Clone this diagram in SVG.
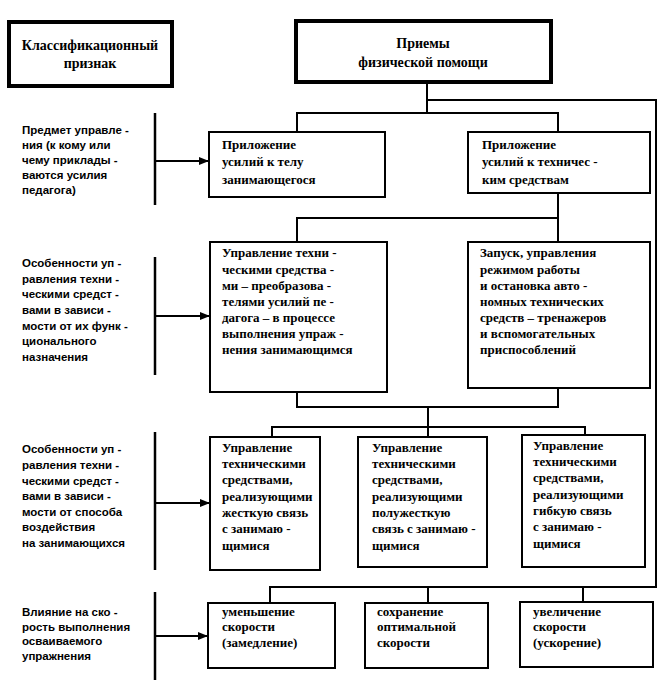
<svg xmlns="http://www.w3.org/2000/svg" width="661" height="681" viewBox="0 0 661 681">
<style>
.bg{fill:#fff}
.box{fill:#fff;stroke:#000;stroke-width:2}
.hbox{fill:#fff;stroke:#000;stroke-width:4}
.ln{fill:none;stroke:#000;stroke-width:2}
.bar{fill:none;stroke:#000;stroke-width:2.5}
.t{font-family:"Liberation Serif","Times New Roman",serif;font-size:13px;font-weight:bold;fill:#000}
.h{font-family:"Liberation Serif","Times New Roman",serif;font-size:14px;font-weight:bold;fill:#000;text-anchor:middle}
.l{font-family:"Liberation Sans",Arial,sans-serif;font-size:11.5px;font-weight:bold;fill:#000}
</style>
<defs>
<marker id="arr" markerWidth="10" markerHeight="8" refX="10" refY="4" orient="auto" markerUnits="userSpaceOnUse">
<path d="M0,0 L10,4 L0,8 Z" fill="#000"/>
</marker>
</defs>
<rect class="bg" x="0" y="0" width="661" height="681"/>

<g id="connectors">
<path class="ln" d="M427,82 V113"/>
<path class="ln" d="M427,100 H656 V587 H270 V603"/>
<path class="ln" d="M428,587 V603"/>
<path class="ln" d="M583,587 V602"/>
<path class="ln" d="M297,132 V113 H558 V132"/>
<path class="ln" d="M558,193 V218"/>
<path class="ln" d="M297,242 V218 H558 V242"/>
<path class="ln" d="M297,392 V407 H558 V388"/>
<path class="ln" d="M428,407 V427"/>
<path class="ln" d="M272,437 V427 H585 V435"/>
<path class="ln" d="M428,427 V437"/>
<path class="bar" d="M155,113 V205"/>
<path class="bar" d="M155,257 V375"/>
<path class="bar" d="M155,432 V570"/>
<path class="bar" d="M155,592 V680"/>
<path class="ln" d="M155,161 H209" marker-end="url(#arr)"/>
<path class="ln" d="M155,316 H210" marker-end="url(#arr)"/>
<path class="ln" d="M155,503 H210" marker-end="url(#arr)"/>
<path class="ln" d="M155,636 H208" marker-end="url(#arr)"/>
</g>

<g id="classif">
<rect class="hbox" x="9" y="22" width="163" height="64"/>
<text class="h" x="90" y="50">Классификационный</text>
<text class="h" x="90" y="68">признак</text>
</g>

<g id="root">
<rect class="hbox" x="296" y="21" width="255" height="61"/>
<text class="h" x="423" y="48">Приемы</text>
<text class="h" x="423" y="67">физической помощи</text>
</g>

<g id="lbl1">
<text class="l" x="22" y="134">Предмет управле -</text>
<text class="l" x="22" y="149">ния (к кому или</text>
<text class="l" x="22" y="164">чему приклады -</text>
<text class="l" x="22" y="179">ваются усилия</text>
<text class="l" x="22" y="194">педагога)</text>
</g>

<g id="lbl2">
<text class="l" x="22" y="267">Особенности уп -</text>
<text class="l" x="22" y="283">равления техни -</text>
<text class="l" x="22" y="298">ческими средст -</text>
<text class="l" x="22" y="314">вами в зависи -</text>
<text class="l" x="22" y="330">мости от их функ -</text>
<text class="l" x="22" y="345">ционального</text>
<text class="l" x="22" y="361">назначения</text>
</g>

<g id="lbl3">
<text class="l" x="22" y="453">Особенности уп -</text>
<text class="l" x="22" y="469">равления техни -</text>
<text class="l" x="22" y="485">ческими средст -</text>
<text class="l" x="22" y="500">вами в зависи -</text>
<text class="l" x="22" y="516">мости от способа</text>
<text class="l" x="22" y="531">воздействия</text>
<text class="l" x="22" y="547">на занимающихся</text>
</g>

<g id="lbl4">
<text class="l" x="22" y="616">Влияние на ско -</text>
<text class="l" x="22" y="631">рость выполнения</text>
<text class="l" x="22" y="645">осваиваемого</text>
<text class="l" x="22" y="660">упражнения</text>
</g>

<g id="n1a">
<rect class="box" x="209" y="132" width="176" height="65"/>
<text class="t" x="222" y="149">Приложение</text>
<text class="t" x="222" y="166">усилий к телу</text>
<text class="t" x="222" y="184">занимающегося</text>
</g>

<g id="n1b">
<rect class="box" x="468" y="132" width="182" height="61"/>
<text class="t" x="482" y="149">Приложение</text>
<text class="t" x="482" y="166">усилий к техничес -</text>
<text class="t" x="482" y="184">ким средствам</text>
</g>

<g id="n2a">
<rect class="box" x="210" y="242" width="177" height="150"/>
<text class="t" x="222" y="257">Управление техни -</text>
<text class="t" x="222" y="274">ческими средства -</text>
<text class="t" x="222" y="290">ми – преобразова -</text>
<text class="t" x="222" y="306">телями усилий пе -</text>
<text class="t" x="222" y="322">дагога – в процессе</text>
<text class="t" x="222" y="338">выполнения упраж -</text>
<text class="t" x="222" y="354">нения занимающимся</text>
</g>

<g id="n2b">
<rect class="box" x="468" y="242" width="182" height="146"/>
<text class="t" x="480" y="257">Запуск, управления</text>
<text class="t" x="480" y="274">режимом работы</text>
<text class="t" x="480" y="290">и остановка авто -</text>
<text class="t" x="480" y="306">номных технических</text>
<text class="t" x="480" y="322">средств – тренажеров</text>
<text class="t" x="480" y="338">и вспомогательных</text>
<text class="t" x="480" y="354">приспособлений</text>
</g>

<g id="n3a">
<rect class="box" x="210" y="437" width="110" height="133"/>
<text class="t" x="222" y="452">Управление</text>
<text class="t" x="222" y="468">техническими</text>
<text class="t" x="222" y="484">средствами,</text>
<text class="t" x="222" y="501">реализующими</text>
<text class="t" x="222" y="517">жесткую связь</text>
<text class="t" x="222" y="533">с занимаю -</text>
<text class="t" x="222" y="550">щимися</text>
</g>

<g id="n3b">
<rect class="box" x="358" y="437" width="129" height="130"/>
<text class="t" x="372" y="452">Управление</text>
<text class="t" x="372" y="468">техническими</text>
<text class="t" x="372" y="484">средствами,</text>
<text class="t" x="372" y="501">реализующими</text>
<text class="t" x="372" y="517">полужесткую</text>
<text class="t" x="372" y="533">связь с занимаю -</text>
<text class="t" x="372" y="550">щимися</text>
</g>

<g id="n3c">
<rect class="box" x="522" y="435" width="123" height="132"/>
<text class="t" x="533" y="450">Управление</text>
<text class="t" x="533" y="466">техническими</text>
<text class="t" x="533" y="482">средствами,</text>
<text class="t" x="533" y="499">реализующими</text>
<text class="t" x="533" y="515">гибкую связь</text>
<text class="t" x="533" y="531">с занимаю -</text>
<text class="t" x="533" y="548">щимися</text>
</g>

<g id="n4a">
<rect class="box" x="208" y="603" width="127" height="65"/>
<text class="t" x="222" y="616">уменьшение</text>
<text class="t" x="222" y="631">скорости</text>
<text class="t" x="222" y="647">(замедление)</text>
</g>

<g id="n4b">
<rect class="box" x="365" y="603" width="123" height="65"/>
<text class="t" x="377" y="616">сохранение</text>
<text class="t" x="377" y="631">оптимальной</text>
<text class="t" x="377" y="647">скорости</text>
</g>

<g id="n4c">
<rect class="box" x="520" y="602" width="133" height="65"/>
<text class="t" x="533" y="616">увеличение</text>
<text class="t" x="533" y="631">скорости</text>
<text class="t" x="533" y="647">(ускорение)</text>
</g>
</svg>
